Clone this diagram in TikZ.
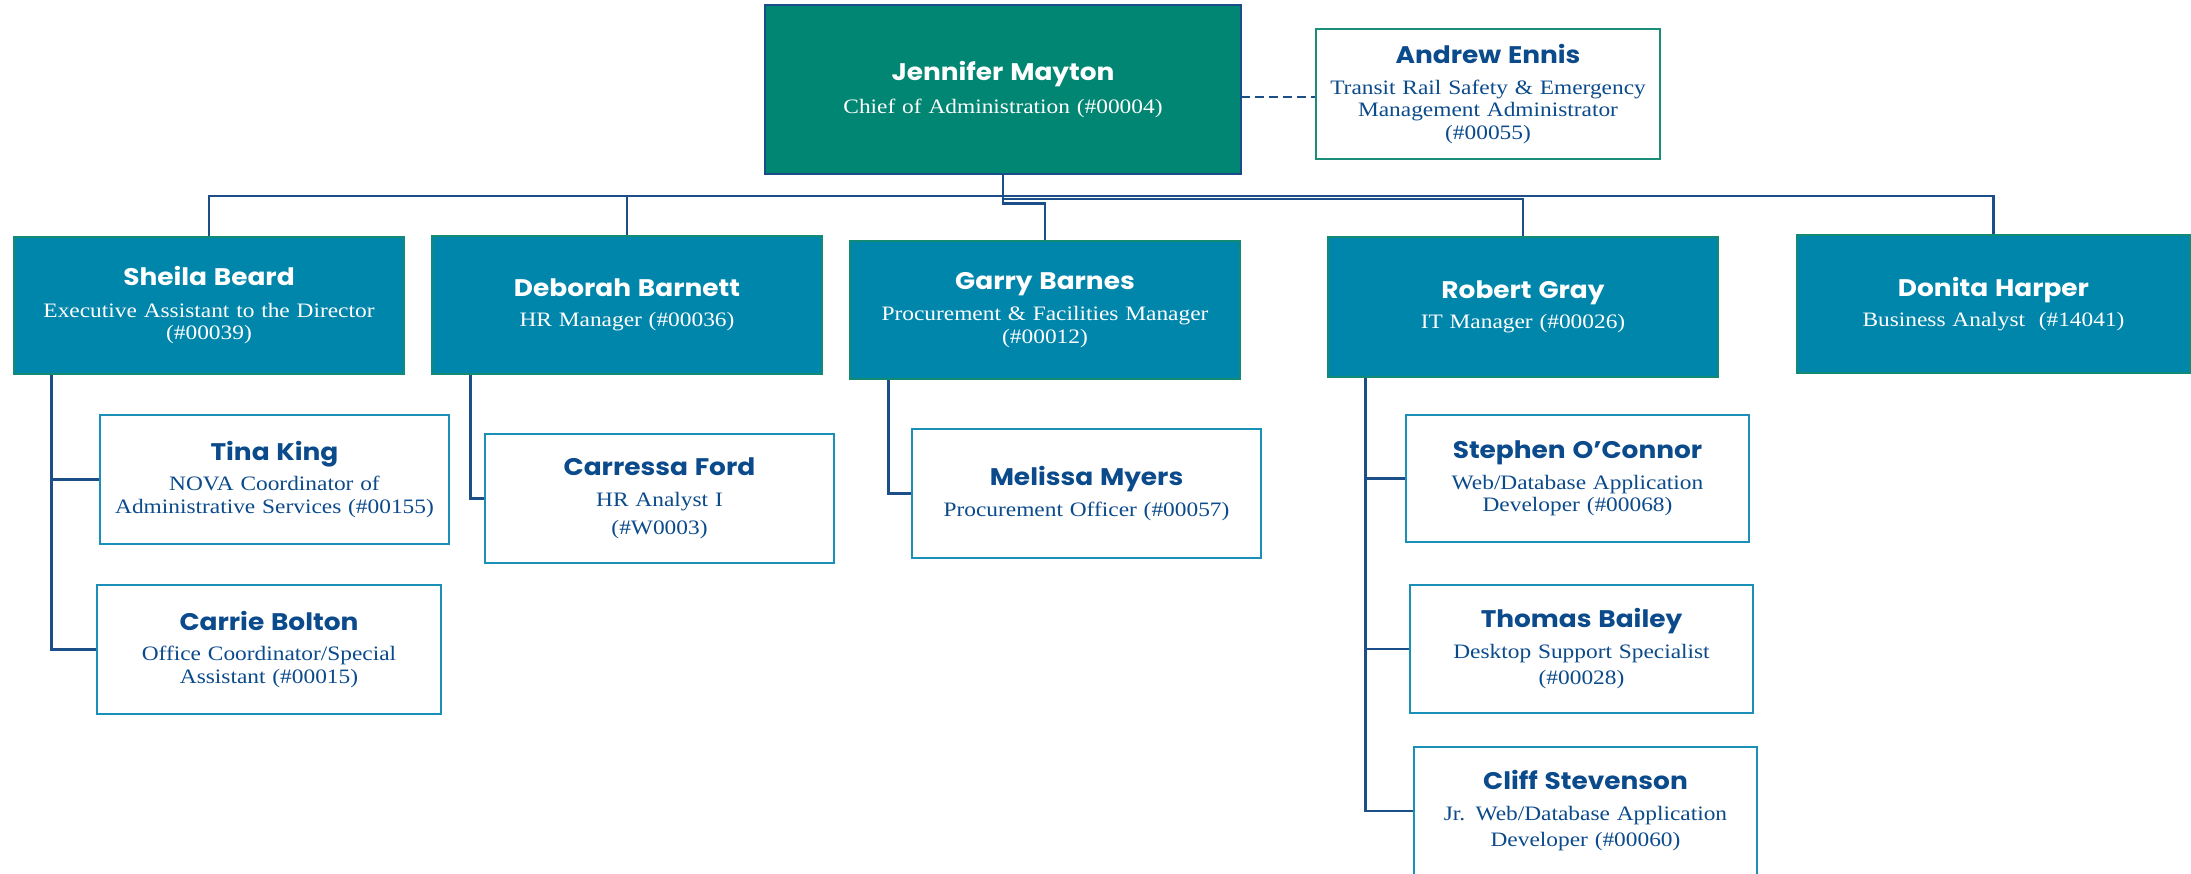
\documentclass[tikz,border=0pt]{standalone}
\usepackage{fontspec}
\setmainfont{Liberation Serif}[FakeStretch=1.14]
\newfontfamily\namefam{Poppins}[FakeStretch=1.1]
\definecolor{jenfill}{HTML}{008672}
\definecolor{jenborder}{HTML}{1B4C8A}
\definecolor{mgrfill}{HTML}{0086AB}
\definecolor{mgrborder}{HTML}{128A74}
\definecolor{staffborder}{HTML}{1A8FB8}
\definecolor{sideborder}{HTML}{1C8C7B}
\definecolor{linecol}{HTML}{1C4E87}
\definecolor{darktext}{HTML}{0B4A8B}
\newcommand\nm[1]{{\namefam\bfseries\fontsize{24}{28}\selectfont #1}}
\tikzset{
  x=1pt, y=-1pt,
  orgbox/.style={rectangle, inner sep=0pt, align=center, text width=#1,
     minimum width=#1, font=\fontsize{20.5}{22.5}\selectfont},
  topbox/.style={orgbox=#1, fill=jenfill, draw=jenborder, line width=2.8pt, text=white},
  mgrbox/.style={orgbox=#1, fill=mgrfill, draw=mgrborder, line width=2.5pt, text=white},
  staffbox/.style={orgbox=#1, fill=white, draw=staffborder, line width=2.5pt, text=darktext},
  sidebox/.style={orgbox=#1, fill=white, draw=sideborder, line width=2.5pt, text=darktext},
  conn/.style={draw=linecol, line width=2.6pt},
  dashconn/.style={draw=linecol, line width=2pt, dash pattern=on 9pt off 5pt},
}
\begin{document}
\begin{tikzpicture}
\useasboundingbox (0,0) rectangle (2191,873);
% boxes
\node[topbox=476, minimum height=169] (jen) at (1003,89.5)
  {\nm{Jennifer Mayton}\\[11pt]Chief of Administration (\#00004)};
\node[sidebox=344, minimum height=130] (andrew) at (1488,94)
  {\nm{Andrew Ennis}\\[8pt]Transit Rail Safety \& Emergency\\Management Administrator\\(\#00055)};
\node[mgrbox=390, minimum height=137] (sheila) at (209,305.5)
  {\nm{Sheila Beard}\\[9pt]Executive Assistant to the Director\\(\#00039)};
\node[mgrbox=390, minimum height=138] (deborah) at (627,305)
  {\nm{Deborah Barnett}\\[8pt]HR Manager (\#00036)};
\node[mgrbox=390, minimum height=138] (garry) at (1045,310)
  {\nm{Garry Barnes}\\[9pt]Procurement \& Facilities Manager\\(\#00012)};
\node[mgrbox=390, minimum height=140] (robert) at (1523,307)
  {\nm{Robert Gray}\\[8pt]IT Manager (\#00026)};
\node[mgrbox=393, minimum height=138] (donita) at (1993.5,304)
  {\nm{Donita Harper}\\[8pt]Business Analyst\ \ (\#14041)};
\node[staffbox=349, minimum height=129] (tina) at (274.5,479.5)
  {\nm{Tina King}\\[8pt]NOVA Coordinator of\\Administrative Services (\#00155)};
\node[staffbox=344, minimum height=129] (carrie) at (269,649.5)
  {\nm{Carrie Bolton}\\[8pt]Office Coordinator/Special\\Assistant (\#00015)};
\node[staffbox=349, minimum height=129] (carressa) at (659.5,498.5)
  {\nm{Carressa Ford}\\[8pt]HR Analyst I\\[6pt](\#W0003)};
\node[staffbox=349, minimum height=129] (melissa) at (1086.5,493.5)
  {\nm{Melissa Myers}\\[8pt]Procurement Officer (\#00057)};
\node[staffbox=343, minimum height=127] (stephen) at (1577.5,478.5)
  {\nm{Stephen O’Connor}\\[8pt]Web/Database Application\\Developer (\#00068)};
\node[staffbox=343, minimum height=128] (thomas) at (1581.5,649)
  {\nm{Thomas Bailey}\\[8pt]Desktop Support Specialist\\[4pt](\#00028)};
\node[staffbox=343, minimum height=128] (cliff) at (1585.5,811)
  {\nm{Cliff Stevenson}\\[8pt]Jr. Web/Database Application\\[4pt]Developer (\#00060)};
% bus
\coordinate (bus) at (1003,196);
\coordinate (bustwo) at (1003,199);
\coordinate (dashstart) at (1241,97);
\draw[conn] (sheila.north) |- (bus) -| (donita.north);
\draw[conn] (deborah.north) -- (deborah.north |- bus);
\draw[conn] (jen.south) -- ++(0,28) -| (garry.north);
\draw[conn] (bustwo) -| (robert.north);
\draw[dashconn] (dashstart) -- (dashstart -| andrew.west);
% staff stems
\coordinate (sst) at ([xshift=39pt]sheila.south west);
\coordinate (dst) at ([xshift=40pt]deborah.south west);
\coordinate (gst) at ([xshift=40pt]garry.south west);
\coordinate (rst) at ([xshift=39pt]robert.south west);
\draw[conn] (sst) |- (tina.west);
\draw[conn] (sst) |- (carrie.west);
\draw[conn] (dst) |- (carressa.west);
\draw[conn] (gst) |- (melissa.west);
\draw[conn] (rst) |- (stephen.west);
\draw[conn] (rst) |- (thomas.west);
\draw[conn] (rst) |- (cliff.west);
\end{tikzpicture}
\end{document}
